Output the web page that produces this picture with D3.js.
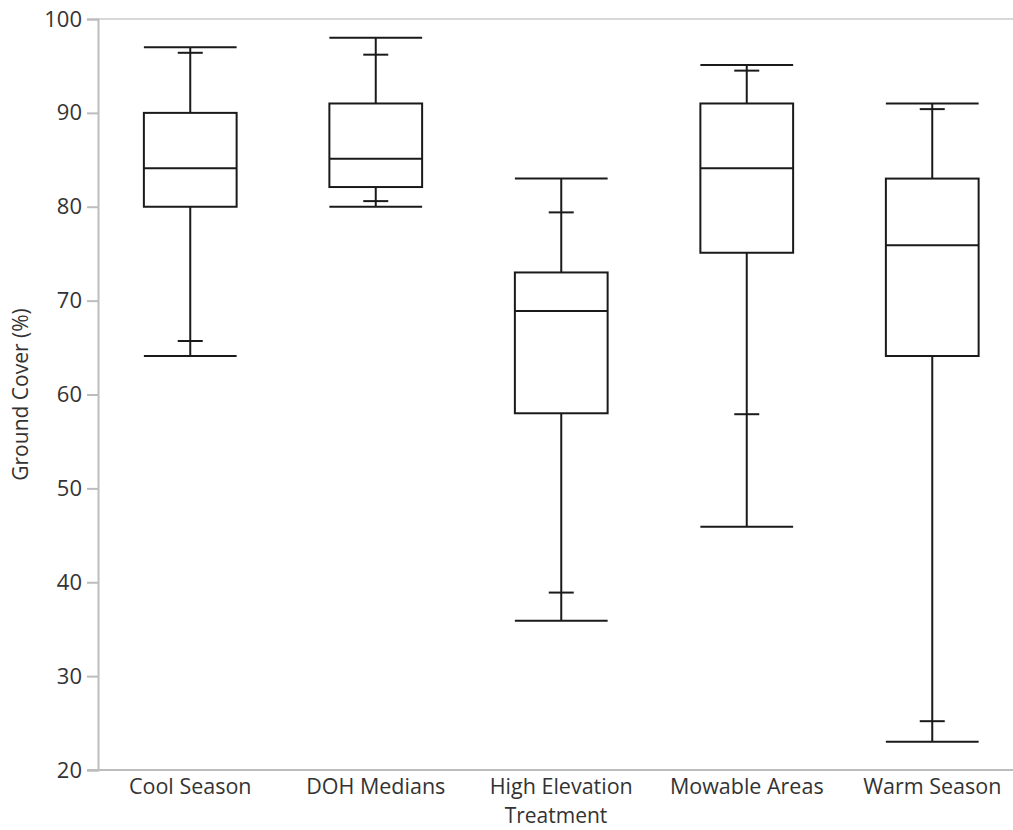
<!DOCTYPE html>
<html>
<head>
<meta charset="utf-8">
<script src="https://cdn.jsdelivr.net/npm/d3@7"></script>
<style>
  html, body { margin: 0; padding: 0; background: #fff; }
  svg { display: block; }
  text { font-family: "Open Sans", "Noto Sans", sans-serif; fill: #333; }
</style>
</head>
<body>
<svg id="chart" width="1013" height="830"></svg>
<script>
// Ground cover distribution per treatment
const categories = ["Cool Season", "DOH Medians", "High Elevation", "Mowable Areas", "Warm Season"];
const minValues     = [64.1, 80.0, 35.9, 45.9, 23.0];
const lowWhisker    = [65.7, 80.6, 38.9, 57.9, 25.2];
const q1Values      = [80.0, 82.1, 58.0, 75.1, 64.1];
const medianValues  = [84.1, 85.1, 68.9, 84.1, 75.9];
const q3Values      = [90.0, 91.0, 73.0, 91.0, 83.0];
const highWhisker   = [96.4, 96.2, 79.4, 94.5, 90.4];
const maxValues     = [97.0, 98.0, 83.0, 95.1, 91.0];
const yTicks = [20, 30, 40, 50, 60, 70, 80, 90, 100];

const rows = categories.map((c, i) => ({
  name: c, min: minValues[i], lo: lowWhisker[i], q1: q1Values[i],
  med: medianValues[i], q3: q3Values[i], hi: highWhisker[i], max: maxValues[i]
}));

const svg = d3.select("#chart");
const plotLeft = 98, plotTop = 19, plotBottom = 770;

const x = d3.scaleBand().domain(categories).range([97.5, 1025]).paddingInner(0).paddingOuter(0);
const y = d3.scaleLinear().domain([20, 100]).range([plotBottom, plotTop]);

const bw = x.bandwidth();
const boxW = bw * 0.5;
const capW = 25;

// frame: top border
svg.append("line")
  .attr("x1", plotLeft).attr("x2", 1013).attr("y1", plotTop).attr("y2", plotTop)
  .attr("stroke", "#d8d8d8").attr("stroke-width", 2);

// y axis
const yAxis = svg.append("g").attr("transform", `translate(${plotLeft},0)`)
  .call(d3.axisLeft(y).tickValues(yTicks).tickSize(11).tickPadding(5).tickFormat(d3.format("d")));
yAxis.select(".domain").attr("stroke", "#bdbdbd").attr("stroke-width", 2);
yAxis.selectAll(".tick line").attr("stroke", "#bdbdbd").attr("stroke-width", 2);
yAxis.selectAll(".tick text").attr("font-size", 22).attr("fill", "#333")
  .attr("font-family", "'Open Sans', 'Noto Sans', sans-serif");

// x axis
const xAxis = svg.append("g").attr("transform", `translate(0,${plotBottom})`)
  .call(d3.axisBottom(x).tickSize(0).tickPadding(9));
xAxis.select(".domain").remove();
svg.append("line")
  .attr("x1", plotLeft - 11).attr("x2", 1013).attr("y1", plotBottom).attr("y2", plotBottom)
  .attr("stroke", "#bdbdbd").attr("stroke-width", 2);
xAxis.selectAll(".tick text").attr("font-size", 21.5).attr("fill", "#333")
  .attr("font-family", "'Open Sans', 'Noto Sans', sans-serif");

// axis titles
svg.append("text")
  .attr("x", 556).attr("y", 823)
  .attr("text-anchor", "middle").attr("font-size", 21)
  .text("Treatment");
svg.append("text")
  .attr("transform", `translate(28,${(plotTop + plotBottom) / 2}) rotate(-90)`)
  .attr("text-anchor", "middle").attr("font-size", 21)
  .text("Ground Cover (%)");

// boxes
const g = svg.append("g").attr("stroke", "#1a1a1a").attr("stroke-width", 2).attr("fill", "none");
const box = g.selectAll("g.box").data(rows).join("g").attr("class", "box")
  .attr("transform", d => `translate(${x(d.name) + bw / 2},0)`);

// whisker stems
box.append("line").attr("x1", 0).attr("x2", 0).attr("y1", d => y(d.max)).attr("y2", d => y(d.q3));
box.append("line").attr("x1", 0).attr("x2", 0).attr("y1", d => y(d.q1)).attr("y2", d => y(d.min));
// outer caps (min / max)
box.append("line").attr("x1", -boxW / 2).attr("x2", boxW / 2).attr("y1", d => y(d.max)).attr("y2", d => y(d.max));
box.append("line").attr("x1", -boxW / 2).attr("x2", boxW / 2).attr("y1", d => y(d.min)).attr("y2", d => y(d.min));
// inner caps
box.append("line").attr("x1", -capW / 2).attr("x2", capW / 2).attr("y1", d => y(d.hi)).attr("y2", d => y(d.hi));
box.append("line").attr("x1", -capW / 2).attr("x2", capW / 2).attr("y1", d => y(d.lo)).attr("y2", d => y(d.lo));
// interquartile box
box.append("rect")
  .attr("x", -boxW / 2).attr("width", boxW)
  .attr("y", d => y(d.q3)).attr("height", d => y(d.q1) - y(d.q3))
  .attr("fill", "#fff");
// median
box.append("line").attr("x1", -boxW / 2).attr("x2", boxW / 2).attr("y1", d => y(d.med)).attr("y2", d => y(d.med));
</script>
</body>
</html>
